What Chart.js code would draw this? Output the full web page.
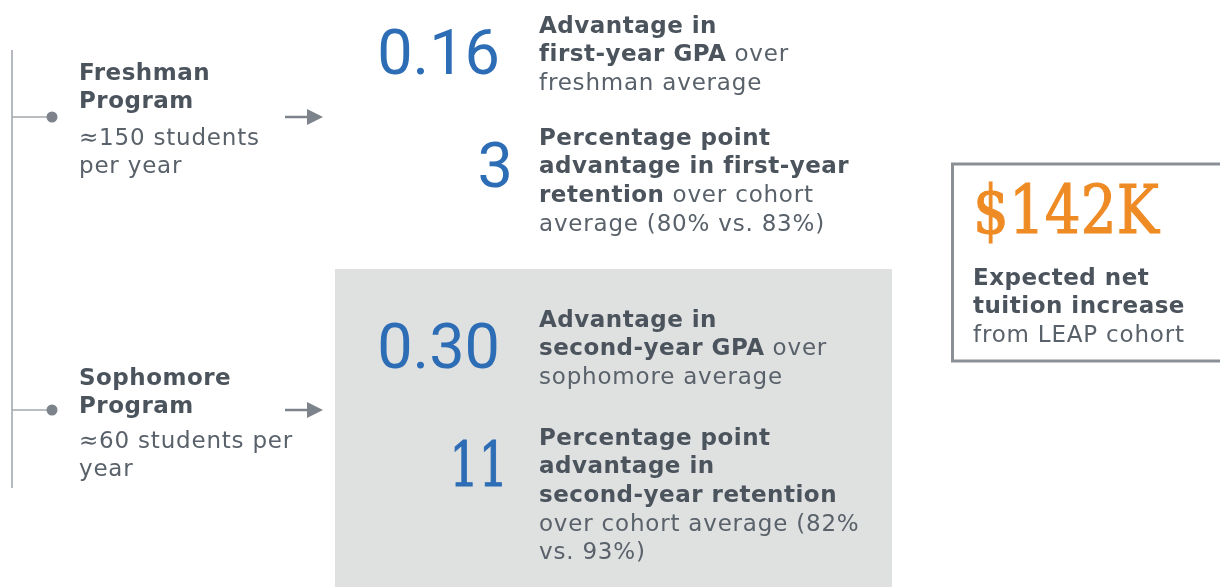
<!DOCTYPE html>
<html>
<head>
<meta charset="utf-8">
<script src="https://cdn.jsdelivr.net/npm/chart.js@4.4.0/dist/chart.umd.min.js"></script>
<style>
  html, body { margin: 0; padding: 0; background: #fff; }
  #wrap { position: relative; width: 1220px; height: 587px; overflow: hidden; }
  #board { position: absolute; left: 0; top: 0; }
  .txt { position: absolute; white-space: nowrap; font-family: "DejaVu Sans", Verdana, sans-serif;
         font-size: 23px; line-height: 28.6px; color: #59616a; letter-spacing: 0.8px; }
  .txt b { color: #4b535c; letter-spacing: 0.5px; }
  .num { position: absolute; white-space: nowrap; font-family: Roboto, sans-serif; color: #2d6db5;
         font-size: 63px; line-height: 63px; }
  .slab { font-family: "DejaVu Serif", serif; -webkit-text-stroke: 1.2px currentColor; }
</style>
</head>
<body>
<div id="wrap">
  <canvas id="board" width="1220" height="587"></canvas>
</div>
<script>
// program labels (left column)
const programNames = [['Freshman', 'Program'], ['Sophomore', 'Program']];
const programSizes = [['≈150 students', 'per year'], ['≈60 students per', 'year']];

// headline metrics, top to bottom
const metricValues = ['0.16', '3', '0.30', '11'];
const metricLines = [
  ['<b>Advantage in</b>', '<b>first-year GPA</b> over', 'freshman average'],
  ['<b>Percentage point</b>', '<b>advantage in first-year</b>', '<b>retention</b> over cohort', 'average (80% vs. 83%)'],
  ['<b>Advantage in</b>', '<b>second-year GPA</b> over', 'sophomore average'],
  ['<b>Percentage point</b>', '<b>advantage in</b>', '<b>second-year retention</b>', 'over cohort average (82%', 'vs. 93%)']
];

// summary box
const totalValue = '$142K';
const totalLines = ['<b>Expected net</b>', '<b>tuition increase</b>', 'from LEAP cohort'];

// layout (baselines in px)
const programY = [117, 410];
const nameBase = [80, 385];
const sizeBase = [145, 448];
const metricTextBase = [33, 145, 327, 445];
const metricNumBase = [74, 187, 368, 486];
const metricNumRight = [500, 513, 500, 508];
const FS = 23, LH = 28.6;

const wrap = document.getElementById('wrap');

function addText(lines, x, baseline, cls) {
  const d = document.createElement('div');
  d.className = cls || 'txt';
  d.innerHTML = lines.join('<br>');
  d.style.left = x + 'px';
  d.style.top = (baseline - (LH - 1.164 * FS) / 2 - 0.928 * FS) + 'px';
  wrap.appendChild(d);
  return d;
}

function addNum(text, right, baseline, size, slab, sx) {
  const d = document.createElement('div');
  d.className = 'num' + (slab ? ' slab' : '');
  d.textContent = text;
  d.style.fontSize = size + 'px';
  d.style.lineHeight = size + 'px';
  d.style.top = (baseline - (size - 1.164 * size) / 2 - 0.928 * size) + 'px';
  d.style.right = (1220 - right) + 'px';
  if (sx) { d.style.transform = 'scaleX(' + sx + ')'; d.style.transformOrigin = 'right center'; }
  wrap.appendChild(d);
  return d;
}

programNames.forEach((n, i) => {
  addText(n.map(s => '<b>' + s + '</b>'), 79, nameBase[i]);
  addText(programSizes[i], 79, sizeBase[i]);
});

metricLines.forEach((lines, i) => {
  addText(lines, 539, metricTextBase[i]);
  const slab = metricValues[i] === '11';
  addNum(metricValues[i], metricNumRight[i], metricNumBase[i], slab ? 62 : 63, slab, slab ? 0.74 : 0);
});

const tot = addNum(totalValue, 1158, 234, 68, true, 0);
tot.style.color = '#ef8b25';
tot.style.right = '';
tot.style.left = '973px';
tot.style.transform = 'scaleX(0.83)';
tot.style.transformOrigin = 'left center';
addText(totalLines, 973, 285);

// background shapes, bracket and arrows drawn on the chart canvas
const layoutPlugin = {
  id: 'layout',
  beforeDraw(chart) {
    const { ctx, scales: { x, y } } = chart;
    const X = v => x.getPixelForValue(v);
    const Y = v => y.getPixelForValue(v);
    ctx.save();
    ctx.fillStyle = '#ffffff';
    ctx.fillRect(0, 0, chart.width, chart.height);

    // grey panel behind sophomore results
    ctx.fillStyle = '#dfe0e0';
    ctx.fillRect(X(335), Y(269), X(892) - X(335), Y(587) - Y(269));

    // summary box border
    ctx.strokeStyle = '#8b9096';
    ctx.lineWidth = 3;
    ctx.strokeRect(X(952.5), Y(164), X(1230) - X(952.5), Y(361) - Y(164));

    // bracket
    ctx.strokeStyle = '#b6babe';
    ctx.lineWidth = 2;
    ctx.beginPath();
    ctx.moveTo(X(12), Y(50));
    ctx.lineTo(X(12), Y(488));
    ctx.stroke();

    programY.forEach(py => {
      ctx.strokeStyle = '#a3a8ad';
      ctx.lineWidth = 1.5;
      ctx.beginPath();
      ctx.moveTo(X(12), Y(py));
      ctx.lineTo(X(50), Y(py));
      ctx.stroke();
      ctx.fillStyle = '#7c838a';
      ctx.beginPath();
      ctx.arc(X(52), Y(py), 5.5, 0, Math.PI * 2);
      ctx.fill();

      // arrow
      ctx.strokeStyle = '#7c838a';
      ctx.lineWidth = 2.5;
      ctx.beginPath();
      ctx.moveTo(X(285), Y(py));
      ctx.lineTo(X(310), Y(py));
      ctx.stroke();
      ctx.beginPath();
      ctx.moveTo(X(307), Y(py - 8));
      ctx.lineTo(X(323), Y(py));
      ctx.lineTo(X(307), Y(py + 8));
      ctx.closePath();
      ctx.fill();
    });
    ctx.restore();
  }
};

new Chart(document.getElementById('board'), {
  type: 'scatter',
  data: { datasets: [{ data: [] }] },
  options: {
    responsive: false,
    animation: false,
    layout: { padding: 0 },
    plugins: { legend: { display: false }, tooltip: { enabled: false } },
    scales: {
      x: { type: 'linear', min: 0, max: 1220, display: false },
      y: { type: 'linear', min: 0, max: 587, reverse: true, display: false }
    }
  },
  plugins: [layoutPlugin]
});
</script>
</body>
</html>
